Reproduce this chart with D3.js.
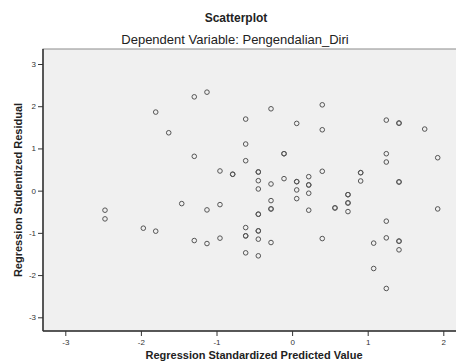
<!DOCTYPE html>
<html lang="en">

<head>
  <meta charset="utf-8">
  <title>Scatterplot</title>
</head>

<style media="screen">
  body {
    margin: 0;
    background: #ffffff;
  }

  text {
    font-family: "Liberation Sans", Arial, sans-serif;
  }
</style>

<body>

  <!-- Load d3.js -->
  <script src="https://d3js.org/d3.v7.min.js"></script>

  <div id="my_dataviz"></div>
</body>

<script>
  // predicted value (x) and studentized residual (y) for each case
  var predicted = [
    -2.475, -2.475, -1.968, -1.804, -1.804, -1.632, -1.460, -1.294, -1.126, -1.294,
    -1.294, -1.126, -1.126, -0.954, -0.954, -0.954, -0.786, -0.614, -0.614, -0.614,
    -0.614, -0.614, -0.614, -0.447, -0.447, -0.447, -0.447, -0.447, -0.447, -0.447,
    -0.279, -0.279, -0.279, -0.279, -0.279, -0.107, -0.107, 0.061, 0.061, 0.061,
    0.061, 0.220, 0.220, 0.220, 0.220, 0.399, 0.399, 0.399, 0.399, 0.567,
    0.739, 0.739, 0.739, 0.907, 0.907, 1.079, 1.079, 1.246, 1.246, 1.246,
    1.246, 1.246, 1.246, 1.414, 1.414, 1.414, 1.414, 1.754, 1.926, 1.926
  ]
  var residual = [
    -0.463, -0.669, -0.889, -0.960, 1.861, 1.371, -0.307, 2.222, 2.333, 0.813,
    -1.182, -0.456, -1.253, 0.466, -0.331, -1.125, 0.388, 1.695, 1.104, 0.709,
    -0.875, -1.071, -1.473, 0.442, 0.236, 0.040, -0.558, -0.953, -1.149, -1.544,
    1.939, 0.158, -0.236, -0.433, -1.229, 0.875, 0.284, 1.593, 0.213, 0.017,
    -0.189, 0.331, 0.135, -0.061, -0.463, 2.033, 1.442, 0.459, -1.135, -0.409,
    -0.095, -0.291, -0.496, 0.426, 0.229, -1.243, -1.844, 1.671, 0.875, 0.678,
    -0.723, -1.118, -2.317, 1.600, 0.206, -1.196, -1.402, 1.459, 0.780, -0.433
  ]
  // cases that sit on top of another one (drawn darker in the original)
  var overlapPredicted = [-0.786, -0.447, -0.107, 0.061, 0.220, 0.907, 1.414, 1.414, 1.414,
    0.739, 0.739, 0.567, -0.447, -0.279, -0.614, -0.447]
  var overlapResidual = [0.388, 0.442, 0.875, 0.213, 0.135, 0.426, 1.600, 0.206, -1.196,
    -0.095, -0.291, -0.409, -0.558, -0.433, -1.071, -0.953]

  var xTicks = [-3, -2, -1, 0, 1, 2]
  var yTicks = [-3, -2, -1, 0, 1, 2, 3]

  var chartTitle = "Scatterplot"
  var chartSubtitle = "Dependent Variable: Pengendalian_Diri"
  var xLabel = "Regression Standardized Predicted Value"
  var yLabel = "Regression Studentized Residual"

  function drawChart()
  {
    var width = 456,
      height = 363;

    var plot = {
      left: 43,
      top: 49,
      right: 470,
      bottom: 331
    };

    var svg = d3.select("#my_dataviz")
      .append("svg")
      .attr("width", width)
      .attr("height", height)

    var x = d3.scaleLinear()
      .domain([-3, 2])
      .range([65.3, 443.3]);

    var y = d3.scaleLinear()
      .domain([-3, 3])
      .range([317.3, 64]);

    // plain integers with an ascii minus, like the original
    var tickFmt = function(d)
    {
      return String(d);
    }

    // plot background
    svg.append("rect")
      .attr("x", plot.left)
      .attr("y", plot.top)
      .attr("width", plot.right - plot.left)
      .attr("height", plot.bottom - plot.top)
      .style("fill", "#f0f0f0")
      .style("stroke", "#8c8c8c")
      .style("stroke-width", 1)

    // titles
    svg.append("text")
      .attr("x", 236)
      .attr("y", 22)
      .attr("text-anchor", "middle")
      .style("font-size", "12px")
      .style("font-weight", "bold")
      .style("fill", "#222")
      .text(chartTitle)

    svg.append("text")
      .attr("x", 235)
      .attr("y", 44)
      .attr("text-anchor", "middle")
      .style("font-size", "13px")
      .style("fill", "#222")
      .text(chartSubtitle)

    // X axis
    var xAxis = svg.append("g")
      .attr("transform", "translate(0," + plot.bottom + ")")
      .call(d3.axisBottom(x).tickValues(xTicks).tickFormat(tickFmt).tickSize(5).tickPadding(3))
    xAxis.select(".domain").remove()
    xAxis.append("line")
      .attr("x1", plot.left)
      .attr("x2", plot.right)
      .style("stroke", "#333")
      .style("stroke-width", 1.5)

    // Y axis
    var yAxis = svg.append("g")
      .attr("transform", "translate(" + plot.left + ",0)")
      .call(d3.axisLeft(y).tickValues(yTicks).tickFormat(tickFmt).tickSize(5).tickPadding(2))
    yAxis.select(".domain").remove()
    yAxis.append("line")
      .attr("y1", plot.top)
      .attr("y2", plot.bottom)
      .style("stroke", "#333")
      .style("stroke-width", 1.5)

    svg.selectAll(".tick line").style("stroke", "#333")
    svg.selectAll(".tick text")
      .style("font-size", "8px")
      .style("fill", "#333")
      .style("font-family", "'Liberation Sans', Arial, sans-serif")

    // axis titles
    svg.append("text")
      .attr("x", 254)
      .attr("y", 359)
      .attr("text-anchor", "middle")
      .style("font-size", "11px")
      .style("font-weight", "bold")
      .style("fill", "#222")
      .text(xLabel)

    svg.append("text")
      .attr("transform", "translate(22,190) rotate(-90)")
      .attr("text-anchor", "middle")
      .style("font-size", "11px")
      .style("font-weight", "bold")
      .style("fill", "#222")
      .text(yLabel)

    // Add dots
    var cases = predicted.map(function(d, i)
    {
      return [d, residual[i]];
    }).concat(overlapPredicted.map(function(d, i)
    {
      return [d, overlapResidual[i]];
    }))

    svg.append("g")
      .selectAll("circle")
      .data(cases)
      .enter()
      .append("circle")
      .attr("cx", function(d)
      {
        return x(d[0]);
      })
      .attr("cy", function(d)
      {
        return y(d[1]);
      })
      .attr("r", 2.3)
      .style("fill", "none")
      .style("stroke", "#555")
      .style("stroke-width", 1)
  }

  drawChart()

</script>

</html>
